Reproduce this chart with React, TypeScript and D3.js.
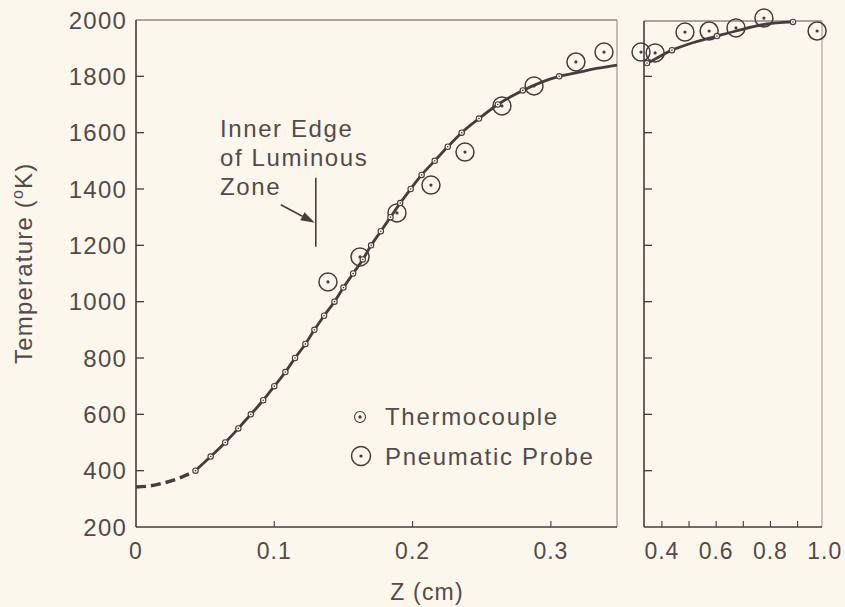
import React from 'react';
import * as d3 from 'd3';

const W = 845;
const H = 607;

// Thermocouple readings, left panel (z in cm, temperature in K)
const thermoLeftZ = [0.043, 0.054, 0.0645, 0.074, 0.083, 0.092, 0.1, 0.108, 0.115, 0.1225, 0.129, 0.136, 0.1435, 0.15, 0.157, 0.164, 0.17, 0.177, 0.184, 0.191, 0.1986, 0.2065, 0.216, 0.2254, 0.2355, 0.248, 0.2616, 0.2797, 0.306];
const thermoLeftT = [400, 450, 500, 550, 600, 650, 700, 750, 800, 850, 900, 950, 1000, 1050, 1100, 1150, 1200, 1250, 1300, 1350, 1400, 1450, 1500, 1550, 1600, 1650, 1700, 1750, 1800];

// Thermocouple readings, right panel
const thermoRightZ = [0.345, 0.437, 0.603, 0.883];
const thermoRightT = [1847, 1893, 1943, 1993];

// Pneumatic probe readings
const probeLeftZ = [0.1388, 0.162, 0.1887, 0.2133, 0.2379, 0.2646, 0.2878, 0.3181, 0.3384];
const probeLeftT = [1070, 1159, 1315, 1414, 1531, 1695, 1766, 1851, 1886];
const probeRightZ = [0.323, 0.375, 0.485, 0.574, 0.673, 0.776, 0.972];
const probeRightT = [1886, 1883, 1957, 1961, 1972, 2007, 1961];

// Fitted profile: extrapolated (dashed) start, solid body, outer panel
const fitDashZ = [0, 0.01, 0.019, 0.033, 0.043];
const fitDashT = [342, 346, 355, 377, 400];
const fitTailZ = [0.318, 0.333, 0.3478];
const fitTailT = [1812, 1828, 1840];
const fitRightZ = [0.334, 0.345, 0.437, 0.52, 0.603, 0.673, 0.776, 0.883];
const fitRightT = [1843, 1847, 1893, 1921, 1943, 1961, 1984, 1993];

// Axis ticks
const yTickLabels = [200, 400, 600, 800, 1000, 1200, 1400, 1600, 1800, 2000];
const yInnerTicks = [400, 600, 800, 1000, 1200, 1400, 1600, 1800];
const xLeftTicks = [0.1, 0.2, 0.3];
const xLeftLabels = [0, 0.1, 0.2, 0.3];
const xRightTicks = [0.4, 0.5, 0.6, 0.7, 0.8, 0.9];
const xRightLabels = [0.4, 0.6, 0.8, 1.0];

// Luminous-zone marker
const markerZ = 0.13;
const markerTopT = 1440;
const markerBottomT = 1195;

const BG = '#fcf7ec';
const INK = '#463c3c';
const TEXT = '#544a4a';
const FONT = '"Liberation Sans", Arial, sans-serif';

const zip = (zs: number[], ts: number[]) => zs.map((z, i) => [z, ts[i]] as [number, number]);

export default function App() {
  const top = 20;
  const bottom = 527;
  const leftX0 = 136;
  const leftX1 = 617;
  const rightX0 = 644;
  const rightX1 = 822;

  const y = d3.scaleLinear().domain([200, 2000]).range([bottom, top]);
  const xL = d3.scaleLinear().domain([0, 0.3478]).range([leftX0, leftX1]);
  const xR = d3.scaleLinear().domain([0.334, 0.99]).range([rightX0, rightX1]);

  const lineL = d3
    .line<[number, number]>()
    .x((d) => xL(d[0]))
    .y((d) => y(d[1]))
    .curve(d3.curveMonotoneX);
  const lineR = d3
    .line<[number, number]>()
    .x((d) => xR(d[0]))
    .y((d) => y(d[1]))
    .curve(d3.curveMonotoneX);

  const dashPts = zip(fitDashZ, fitDashT);
  const solidPts = [...zip(thermoLeftZ, thermoLeftT), ...zip(fitTailZ, fitTailT)];
  const rightPts = zip(fitRightZ, fitRightT);

  const thermo = (cx: number, cy: number, r: number, key: string) => (
    <g key={key}>
      <circle cx={cx} cy={cy} r={r} fill={BG} stroke={INK} strokeWidth={1.1} />
      <circle cx={cx} cy={cy} r={Math.max(0.7, r * 0.3)} fill={INK} />
    </g>
  );
  const probe = (cx: number, cy: number, r: number, key: string) => (
    <g key={key}>
      <circle cx={cx} cy={cy} r={r} fill="none" stroke={INK} strokeWidth={1.5} />
      <circle cx={cx} cy={cy} r={1.6} fill={INK} />
    </g>
  );

  const mx = xL(markerZ);
  const mTop = y(markerTopT);
  const mBot = y(markerBottomT);
  const arrowEnd: [number, number] = [mx - 1, mTop + 45];
  const arrowStart: [number, number] = [mx - 35, mTop + 27];
  const ang = Math.atan2(arrowEnd[1] - arrowStart[1], arrowEnd[0] - arrowStart[0]);
  const ah = 14;
  const aw = 4.5;
  const headBase: [number, number] = [arrowEnd[0] - ah * Math.cos(ang), arrowEnd[1] - ah * Math.sin(ang)];
  const headPts = [
    arrowEnd,
    [headBase[0] + aw * Math.sin(ang), headBase[1] - aw * Math.cos(ang)],
    [headBase[0] - aw * Math.sin(ang), headBase[1] + aw * Math.cos(ang)],
  ]
    .map((p) => p.join(','))
    .join(' ');

  const fmtX = (v: number) => (v === 0 ? '0' : v.toFixed(1));

  return (
    <svg
      width={W}
      height={H}
      viewBox={`0 0 ${W} ${H}`}
      style={{ position: 'absolute', left: 0, top: 0, background: BG, display: 'block' }}
      fontFamily={FONT}
    >
      <rect x={0} y={0} width={W} height={H} fill={BG} />

      {/* left panel frame */}
      <line x1={leftX0} y1={top} x2={leftX1} y2={top} stroke="#5a5050" strokeWidth={1.2} />
      <line x1={leftX1} y1={top} x2={leftX1} y2={bottom} stroke="#8c8282" strokeWidth={1} />
      <line x1={leftX0} y1={top} x2={leftX0} y2={bottom} stroke={INK} strokeWidth={1.6} />
      <line x1={leftX0} y1={bottom} x2={leftX1} y2={bottom} stroke={INK} strokeWidth={1.6} />

      {/* right panel frame */}
      <line x1={rightX0} y1={top + 1} x2={rightX1} y2={top + 1} stroke="#5a5050" strokeWidth={1.2} />
      <line x1={rightX1} y1={top + 1} x2={rightX1} y2={bottom} stroke="#9a9090" strokeWidth={1} />
      <line x1={rightX0} y1={top + 1} x2={rightX0} y2={bottom} stroke={INK} strokeWidth={1.6} />
      <line x1={rightX0} y1={bottom} x2={rightX1} y2={bottom} stroke={INK} strokeWidth={1.6} />

      {/* ticks */}
      {yInnerTicks.map((t) => (
        <g key={`yt${t}`}>
          <line x1={leftX0} x2={leftX0 + 8} y1={y(t)} y2={y(t)} stroke={INK} strokeWidth={1.3} />
          <line x1={rightX0} x2={rightX0 + 8} y1={y(t)} y2={y(t)} stroke={INK} strokeWidth={1.3} />
        </g>
      ))}
      {xLeftTicks.map((t) => (
        <line key={`xl${t}`} x1={xL(t)} x2={xL(t)} y1={bottom} y2={bottom - 6} stroke={INK} strokeWidth={1.1} />
      ))}
      {xRightTicks.map((t) => (
        <line key={`xr${t}`} x1={xR(t)} x2={xR(t)} y1={bottom} y2={bottom - 6} stroke={INK} strokeWidth={1.1} />
      ))}

      {/* tick labels */}
      {yTickLabels.map((t) => (
        <text key={`yl${t}`} x={127} y={y(t)} dy="0.36em" textAnchor="end" fontSize={24} fill={TEXT} letterSpacing={1.2}>
          {t}
        </text>
      ))}
      {xLeftLabels.map((t) => (
        <text key={`xll${t}`} x={xL(t)} y={559} textAnchor="middle" fontSize={23} fill={TEXT} letterSpacing={1}>
          {fmtX(t)}
        </text>
      ))}
      {xRightLabels.map((t) => (
        <text key={`xrl${t}`} x={xR(t)} y={559} textAnchor="middle" fontSize={23} fill={TEXT} letterSpacing={1}>
          {fmtX(t)}
        </text>
      ))}

      {/* axis titles */}
      <text x={427} y={600} textAnchor="middle" fontSize={23} fill={TEXT} letterSpacing={1.2}>
        Z (cm)
      </text>
      <text transform="translate(32,364) rotate(-90)" fontSize={24} fill={TEXT} letterSpacing={1.2}>
        Temperature (
        <tspan fontSize={16} dy={-9}>o</tspan>
        <tspan dy={9}>K)</tspan>
      </text>

      {/* fitted profile */}
      <path d={lineL(dashPts) || ''} fill="none" stroke={INK} strokeWidth={3.4} strokeDasharray="10 5" />
      <path d={lineL(solidPts) || ''} fill="none" stroke={INK} strokeWidth={2.8} />
      <path d={lineR(rightPts) || ''} fill="none" stroke={INK} strokeWidth={2.8} />

      {/* pneumatic probe */}
      {probeLeftZ.map((z, i) => probe(xL(z), y(probeLeftT[i]), 9, `pl${i}`))}
      {probeRightZ.map((z, i) => probe(xR(z), y(probeRightT[i]), 9, `pr${i}`))}

      {/* thermocouple */}
      {thermoLeftZ.map((z, i) => thermo(xL(z), y(thermoLeftT[i]), 2.7, `tl${i}`))}
      {thermoRightZ.map((z, i) => thermo(xR(z), y(thermoRightT[i]), 2.7, `tr${i}`))}

      {/* luminous zone annotation */}
      <line x1={mx} x2={mx} y1={mTop} y2={mBot} stroke={INK} strokeWidth={1.6} />
      <line x1={arrowStart[0]} y1={arrowStart[1]} x2={headBase[0]} y2={headBase[1]} stroke={INK} strokeWidth={1.6} />
      <polygon points={headPts} fill={INK} />
      <g fontSize={24} fill={TEXT} letterSpacing={1.6}>
        <text x={220} y={137}>Inner Edge</text>
        <text x={220} y={166}>of Luminous</text>
        <text x={220} y={195}>Zone</text>
      </g>

      {/* legend */}
      {thermo(360, 417, 5.5, 'lg1')}
      {probe(361, 456, 9.5, 'lg2')}
      <g fontSize={24} fill={TEXT} letterSpacing={1.7}>
        <text x={385} y={425}>Thermocouple</text>
        <text x={385} y={465}>Pneumatic Probe</text>
      </g>
    </svg>
  );
}
